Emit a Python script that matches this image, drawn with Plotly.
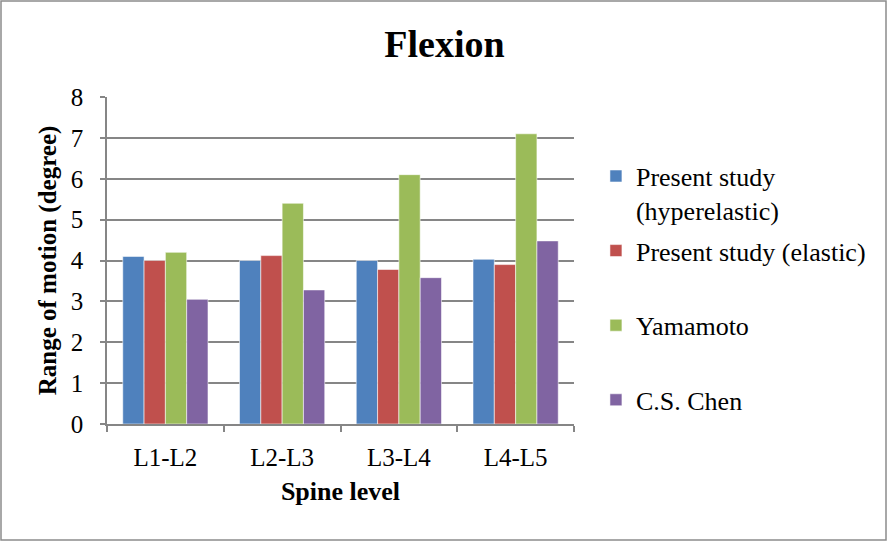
import plotly.graph_objects as go

# Range of motion under flexion at each lumbar level (degrees)
levels = ["L1-L2", "L2-L3", "L3-L4", "L4-L5"]
hyperelastic = [4.1, 4.0, 4.0, 4.03]
elastic = [4.0, 4.12, 3.78, 3.9]
yamamoto = [4.2, 5.4, 6.1, 7.1]
cs_chen = [3.05, 3.28, 3.58, 4.48]

series_names = [
    "Present study<br>(hyperelastic)",
    "Present study (elastic)<br> ",
    "Yamamoto<br> ",
    "C.S. Chen<br> ",
]
series_values = [hyperelastic, elastic, yamamoto, cs_chen]
series_colors = ["#4F81BD", "#C0504D", "#9BBB59", "#8064A2"]

FONT = "Liberation Serif, Times New Roman, serif"
GRID = "#868686"

fig = go.Figure()
for i, (name, vals, col) in enumerate(zip(series_names, series_values, series_colors)):
    fig.add_trace(go.Bar(
        x=levels, y=vals, name=name,
        marker=dict(color=col, line=dict(color="rgba(255,255,255,0.55)", width=1)),
        legendgroup=f"g{i}",
    ))

fig.update_layout(
    width=889, height=542,
    barmode="group", bargap=0.27, bargroupgap=0,
    plot_bgcolor="white", paper_bgcolor="white",
    margin=dict(l=107, r=315, t=97, b=118),
    font=dict(family=FONT, color="black", size=25),
    title=dict(text="<b>Flexion</b>", font=dict(family=FONT, size=38, color="black"),
               x=0.5, xref="container", xanchor="center",
               y=1 - 44 / 542, yref="container", yanchor="middle"),
    legend=dict(x=1.047, xanchor="left", y=0.83, yanchor="top",
                font=dict(family=FONT, size=26, color="black"),
                valign="top", tracegroupgap=4, bgcolor="rgba(0,0,0,0)"),
    xaxis=dict(
        showline=True, linecolor=GRID, linewidth=1.5,
        ticks="outside", tickson="boundaries", ticklen=6, tickcolor=GRID, tickwidth=1.5,
        ticklabelstandoff=10,
        tickfont=dict(family=FONT, size=25),
        title=dict(text="<b>Spine level</b>", font=dict(family=FONT, size=26), standoff=12),
        showgrid=False,
    ),
    yaxis=dict(
        range=[0, 8], dtick=1,
        showline=True, linecolor=GRID, linewidth=1.5,
        ticks="outside", ticklen=5, tickcolor=GRID, tickwidth=1.5,
        ticklabelstandoff=12,
        tickfont=dict(family=FONT, size=25),
        showgrid=True, gridcolor=GRID, gridwidth=1.5,
        zeroline=False,
        title=dict(text="<b>Range of motion (degree)</b>", font=dict(family=FONT, size=25), standoff=7),
    ),
    shapes=[dict(type="rect", xref="paper", yref="paper",
                 x0=(1 - 107) / 467, x1=(886 - 107) / 467,
                 y0=(424 - 540) / 327, y1=(424 - 1) / 327,
                 line=dict(color="#8C8C8C", width=1.5), layer="below")],
)

fig.write_html("out.html")
